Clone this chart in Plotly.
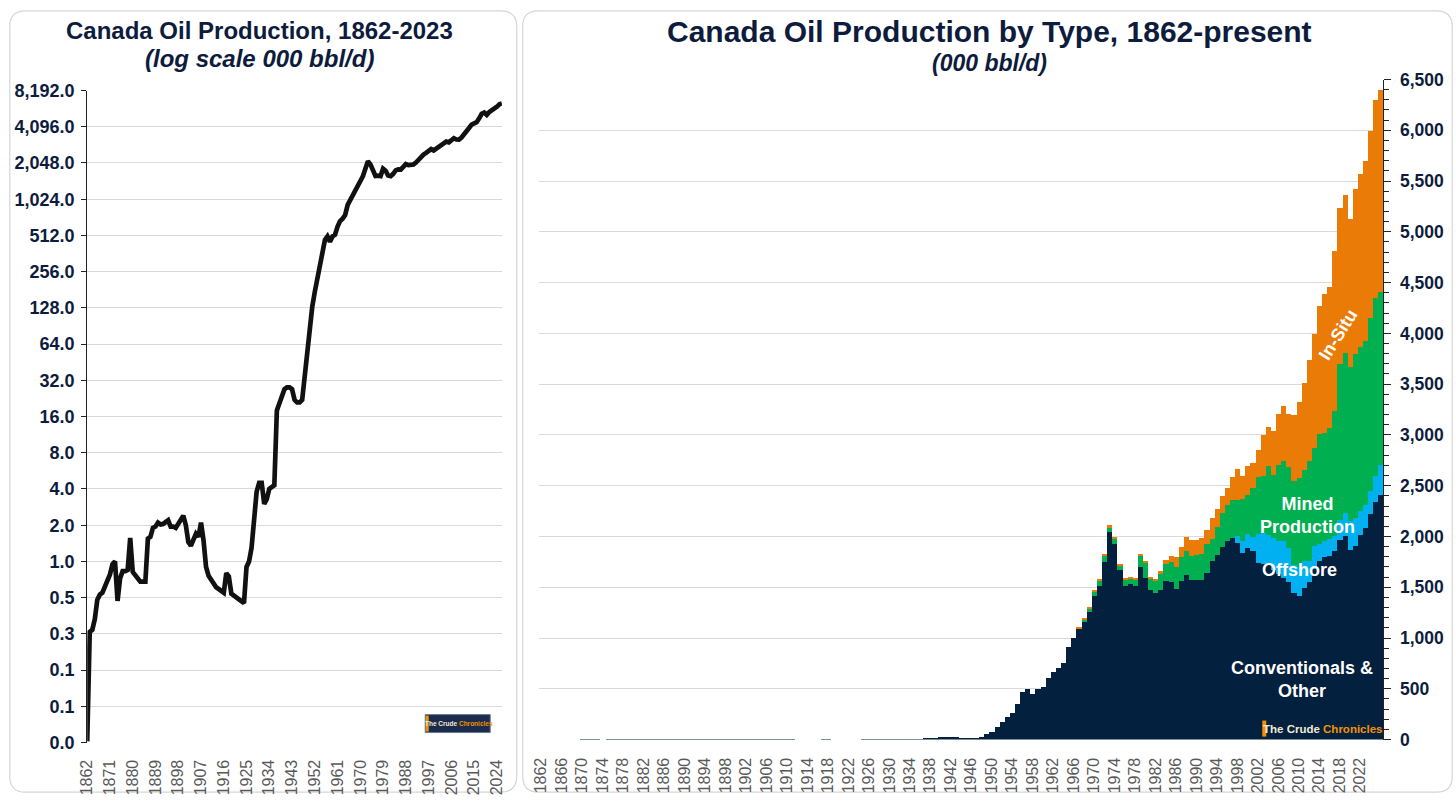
import math
import plotly.graph_objects as go

W, H = 1456, 803
NAVY_TXT = "#0D1C3D"
FONT = "Liberation Sans, Arial, Helvetica, sans-serif"

# ---------------- data (000 bbl/d) ----------------
years = list(range(1862, 2027))

conventional = [
    0.032, 0.26, 0.27, 0.33, 0.48, 0.53, 0.55, 0.62, 0.70, 0.78,   # 1862-1871
    0.95, 1.0, 0.47, 0.72, 0.83, 0.83, 0.85, 1.57, 0.82, 0.76,     # 1872-1881
    0.72, 0.68, 0.68, 0.68, 1.55, 1.6, 1.9, 1.95, 2.1, 2.03,       # 1882-1891
    2.05, 2.1, 2.2, 1.95, 1.95, 1.9, 2.03, 2.2, 2.4, 2.0,          # 1892-1901
    1.45, 1.35, 1.55, 1.7, 1.6, 2.1, 1.5, 0.9, 0.76, 0.70,         # 1902-1911
    0.65, 0.61, 0.59, 0.57, 0.55, 0.80, 0.75, 0.54, 0.52, 0.50,    # 1912-1921
    0.48, 0.46, 0.45, 0.9, 1.0, 1.3, 2.3, 3.8, 4.5, 4.5,           # 1922-1931
    3.0, 3.3, 4.0, 4.1, 4.3, 18, 21, 23, 27, 28,                   # 1932-1941
    28, 27, 22, 21, 21, 22, 35, 62, 82, 131,                       # 1942-1951
    174, 223, 263, 351, 469, 502, 453, 502, 519, 607,              # 1952-1961
    673, 706, 755, 918, 1008, 1095, 1160, 1262, 1420, 1516,        # 1962-1971
    1755, 2045, 1935, 1675, 1520, 1540, 1518, 1704, 1592, 1475,    # 1972-1981
    1450, 1474, 1569, 1555, 1485, 1570, 1622, 1580, 1579, 1575,    # 1982-1991
    1650, 1765, 1820, 1905, 1965, 1992, 1945, 1838, 1888, 1860,    # 1992-2001
    1745, 1735, 1720, 1675, 1635, 1595, 1560, 1446, 1417, 1495,    # 2002-2011
    1561, 1681, 1766, 1802, 1808, 1858, 1967, 2005, 1868, 1914,    # 2012-2021
    2018, 2087, 2222, 2349, 2415,                                  # 2022-2026
]

offshore_start = 1998
offshore = [
    60, 120, 140, 138, 280, 305, 296, 315, 322, 362,     # 1998-2007
    331, 280, 283, 270, 200, 227, 160, 155, 170, 150,    # 2008-2017
    204, 231, 286, 273, 234, 231, 227, 248, 297,         # 2018-2026
]

oilsands_start = 1967
mined = [
    8, 25, 32, 42, 54, 60, 52, 45, 45, 60,               # 1967-1976
    50, 60, 106, 154, 110, 116, 157, 164, 195, 222,      # 1977-1986
    230, 239, 235, 240, 253, 277, 218, 278, 335, 348,    # 1987-1996
    375, 360, 412, 382, 482, 569, 557, 680, 617, 755,    # 1997-2006
    788, 795, 822, 881, 898, 985, 968, 1084, 1067, 1092, # 2007-2016
    1237, 1529, 1575, 1522, 1610, 1618, 1608, 1703, 1759, 1700,  # 2017-2026
]
in_situ = [
    3, 9, 12, 11, 13, 14, 17, 13, 15, 16,                # 1967-1976
    16, 16, 26, 18, 25, 24, 32, 42, 62, 100,             # 1977-1986
    101, 143, 151, 149, 162, 138, 201, 178, 162, 167,    # 1987-1996
    221, 307, 234, 293, 248, 263, 406, 384, 434, 496,    # 1997-2006
    545, 521, 654, 751, 852, 994, 1124, 1261, 1364, 1394,  # 2007-2016
    1568, 1544, 1561, 1459, 1633, 1708, 1774, 1846, 1944, 1986,  # 2017-2026
]

log_tick_labels = ["0.0", "0.1", "0.1", "0.3", "0.5", "1.0", "2.0", "4.0", "8.0",
                   "16.0", "32.0", "64.0", "128.0", "256.0", "512.0", "1,024.0",
                   "2,048.0", "4,096.0", "8,192.0"]
log_tick_exponents = list(range(-5, 14))
left_tick_years = list(range(1862, 2025, 9))
right_tick_years = list(range(1862, 2023, 4))


def pad(start, vals):
    out = [0.0] * len(years)
    for k, v in enumerate(vals):
        out[years.index(start + k)] = v
    return out


offshore_full = pad(offshore_start, offshore)
mined_full = pad(oilsands_start, mined)
insitu_full = pad(oilsands_start, in_situ)
total = [a + b + c + d for a, b, c, d in zip(conventional, offshore_full, mined_full, insitu_full)]

# layout placement: the photographed page shows up slightly inset and scaled,
# so target pixel positions are mapped back to page pixels before use.
AX, BX = 0.9917, 8.8
AY, BY = 0.975, 8.5


def TX(x):
    return (x - BX) / AX


def TY(y):
    return (y - BY) / AY


def PX(x):
    return TX(x) / W


def PY(y):
    return 1 - TY(y) / H


fig = go.Figure()

fig.add_trace(go.Scatter(x=years, y=total, mode="lines",
                         line=dict(color="#111111", width=4.7),
                         xaxis="x", yaxis="y", showlegend=False, hoverinfo="skip"))

series = [
    ("Conventionals & Other", conventional, "#03203F"),
    ("Offshore", offshore_full, "#00B0F0"),
    ("Mined Production", mined_full, "#00B050"),
    ("In-Situ", insitu_full, "#EA7B06"),
]
for name, vals, color in series:
    fig.add_trace(go.Bar(x=years, y=vals, name=name, marker=dict(color=color, line=dict(width=0)),
                         xaxis="x2", yaxis="y2", showlegend=False, hoverinfo="skip"))

tick_font_x = dict(family=FONT, size=16, color="#595959")
tick_font_yl = dict(family=FONT, size=18, color=NAVY_TXT, weight="bold")
tick_font_yr = dict(family=FONT, size=17.5, color=NAVY_TXT, weight="bold")

fig.update_layout(
    width=W, height=H, autosize=False,
    margin=dict(l=0, r=0, t=0, b=0),
    paper_bgcolor="white", plot_bgcolor="white",
    barmode="stack", bargap=0,
    font=dict(family=FONT),
    xaxis=dict(domain=[PX(87), PX(501.7)], anchor="y", range=[1862, 2026],
               tickmode="array", tickvals=left_tick_years, ticktext=[str(v) for v in left_tick_years],
               tickangle=-90, tickfont=tick_font_x, showgrid=False, zeroline=False,
               showline=False, ticks="", ticklabelstandoff=13),
    yaxis=dict(domain=[PY(741), PY(89)], anchor="x", type="log",
               range=[math.log10(2 ** -5), math.log10(2 ** 13)],
               tickmode="array", tickvals=[2 ** e for e in log_tick_exponents], ticktext=log_tick_labels,
               tickfont=tick_font_yl, showgrid=True, gridcolor="#D9D9D9", gridwidth=1.3,
               showline=True, linecolor="#222222", linewidth=1.3, ticks="outside", ticklen=5,
               tickcolor="#222222", zeroline=False, ticklabelstandoff=3),
    xaxis2=dict(domain=[PX(538.5), PX(1383)], anchor="y2", range=[1861.5, 2026.5],
                tickmode="array", tickvals=right_tick_years, ticktext=[str(v) for v in right_tick_years],
                tickangle=-90, tickfont=tick_font_x, showgrid=False, zeroline=False,
                showline=False, ticks="", ticklabelstandoff=14),
    yaxis2=dict(domain=[PY(738), PY(78)], anchor="x2", side="right", range=[0, 6500],
                tick0=0, dtick=500, tickformat=",d", tickfont=tick_font_yr,
                showgrid=True, gridcolor="#D9D9D9", gridwidth=1.3, zeroline=False,
                showline=True, linecolor="#222222", linewidth=1.3, ticks="outside", ticklen=7,
                tickcolor="#222222", ticklabelstandoff=5,
                minor=dict(dtick=100, ticks="outside", ticklen=5, tickcolor="#222222", showgrid=False)),
)


def rrect_page(x0, y0, x1, y1, r):
    rx, ry = r / W, r / H
    X0, X1, Y0, Y1 = x0 / W, x1 / W, 1 - y0 / H, 1 - y1 / H
    return (f"M {X0+rx},{Y0} L {X1-rx},{Y0} Q {X1},{Y0} {X1},{Y0-ry} "
            f"L {X1},{Y1+ry} Q {X1},{Y1} {X1-rx},{Y1} L {X0+rx},{Y1} "
            f"Q {X0},{Y1} {X0},{Y1+ry} L {X0},{Y0-ry} Q {X0},{Y0} {X0+rx},{Y0} Z")


shapes = [
    dict(type="path", xref="paper", yref="paper",
         path=rrect_page(0.8, 0.8, TX(516.5), 802.2, 16),
         line=dict(color="#D6D6D6", width=1.2), layer="below"),
    dict(type="path", xref="paper", yref="paper",
         path=rrect_page(TX(522.5), 0.8, 1455.2, 802.2, 16),
         line=dict(color="#D6D6D6", width=1.2), layer="below"),
    dict(type="rect", xref="paper", yref="paper", x0=PX(425), x1=PX(490), y0=PY(731), y1=PY(713),
         fillcolor="#1A2B4C", line=dict(color="#6B7A99", width=1)),
    dict(type="rect", xref="paper", yref="paper", x0=PX(425.5), x1=PX(428.5), y0=PY(730), y1=PY(714),
         fillcolor="#F39200", line=dict(width=0)),
    dict(type="rect", xref="paper", yref="paper", x0=PX(1262), x1=PX(1266), y0=PY(735), y1=PY(719),
         fillcolor="#F39200", line=dict(width=0)),
]
fig.update_layout(shapes=shapes)

ann = []
ann.append(dict(text="<b>Canada Oil Production, 1862-2023</b>", x=PX(259.5), y=PY(29),
                xref="paper", yref="paper", showarrow=False, xanchor="center", yanchor="middle",
                font=dict(family=FONT, size=24, color=NAVY_TXT)))
ann.append(dict(text="<b><i>(log scale 000 bbl/d)</i></b>", x=PX(259.5), y=PY(57),
                xref="paper", yref="paper", showarrow=False, xanchor="center", yanchor="middle",
                font=dict(family=FONT, size=24, color=NAVY_TXT)))
ann.append(dict(text="<b>Canada Oil Production by Type, 1862-present</b>", x=PX(989), y=PY(30),
                xref="paper", yref="paper", showarrow=False, xanchor="center", yanchor="middle",
                font=dict(family=FONT, size=30, color=NAVY_TXT)))
ann.append(dict(text="<b><i>(000 bbl/d)</i></b>", x=PX(989), y=PY(61),
                xref="paper", yref="paper", showarrow=False, xanchor="center", yanchor="middle",
                font=dict(family=FONT, size=23, color=NAVY_TXT)))

lab_font = dict(family=FONT, size=18, color="white", weight="bold")
ann.append(dict(text="In-Situ", x=2017.6, y=3986, xref="x2", yref="y2", showarrow=False,
                textangle=-58, font=lab_font))
ann.append(dict(text="Mined<br>Production", x=2011.6, y=2206, xref="x2", yref="y2", showarrow=False,
                font=lab_font))
ann.append(dict(text="Offshore", x=2010.2, y=1674, xref="x2", yref="y2", showarrow=False,
                font=lab_font))
ann.append(dict(text="Conventionals &amp;<br>Other", x=2010.6, y=596, xref="x2", yref="y2",
                showarrow=False, font=lab_font))

ann.append(dict(text="The Crude <span style='color:#F39200'>Chronicles</span>", x=PX(459), y=PY(722),
                xref="paper", yref="paper", showarrow=False, xanchor="center", yanchor="middle",
                font=dict(family=FONT, size=6.5, color="#F3EBD6", weight="bold")))
ann.append(dict(text="The Crude <span style='color:#F39200'>Chronicles</span>", x=PX(1323), y=PY(727),
                xref="paper", yref="paper", showarrow=False, xanchor="center", yanchor="middle",
                font=dict(family=FONT, size=11.5, color="#F3EBD6", weight="bold")))
fig.update_layout(annotations=ann)

fig.write_html("out.html",
               config={"displayModeBar": False, "responsive": False},
               post_script="document.body.style.margin='0px';document.body.style.overflow='hidden';")
